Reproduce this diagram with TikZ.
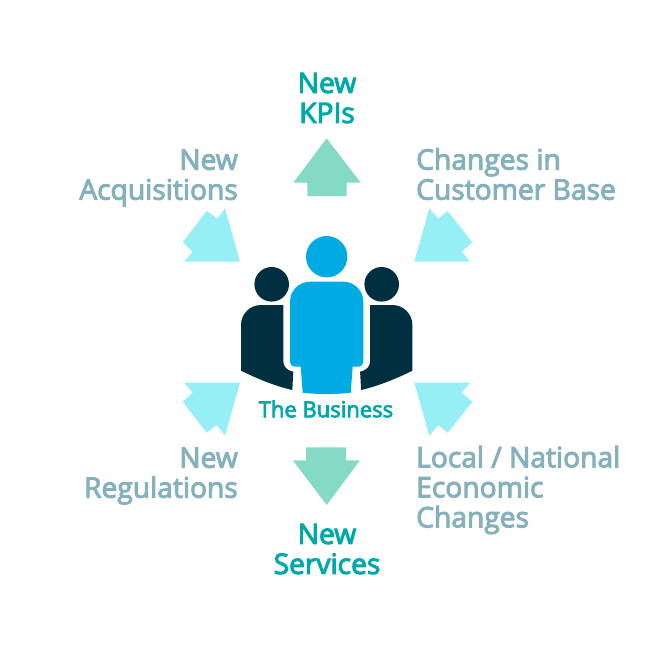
\documentclass[tikz,border=0pt]{standalone}
\usepackage{fontspec}
\setmainfont{Open Sans}[FakeBold=3.5]
\definecolor{titleteal}{HTML}{00A9A9}
\definecolor{greyblue}{HTML}{85B1BD}
\definecolor{paleaqua}{HTML}{96EFF5}
\definecolor{mint}{HTML}{85DAC6}
\definecolor{darkperson}{HTML}{00303F}
\definecolor{blueperson}{HTML}{00ABE4}
\tikzset{
	maintext/.style={titleteal,font=\fontsize{28.2}{30}\selectfont,align=center,inner sep=0pt},
	sidetext/.style={greyblue,font=\fontsize{28.2}{30}\selectfont,inner sep=0pt},
	paleshape/.style={fill=paleaqua},
	mintshape/.style={fill=mint}
}
\begin{document}
\begin{tikzpicture}[x=1pt,y=-1pt]
	\useasboundingbox (0,0) rectangle (650,650);
	% arrows
	\fill[mintshape] (326.7,138.3) -- (360.7,182.7) -- (346.7,182.7) -- (346.7,196) -- (307.3,196) -- (307.3,182.7) -- (293.3,182.7) -- cycle;
	\fill[mintshape] (326.7,505) -- (360,460.3) -- (346,460.3) -- (346,447.3) -- (306,447.3) -- (306,460.3) -- (292.7,460.3) -- cycle;
	\fill[paleshape] (225,208.3) -- (240,261.7) -- (184.3,261.7) -- (192.7,251.7) -- (182.7,242.3) -- (206.7,211) -- (217.3,218.7) -- cycle;
	\fill[paleshape] (429.3,208.3) -- (438.3,218.7) -- (447.7,211) -- (472.3,242.3) -- (461.7,251.7) -- (470,261.7) -- (414.3,261.7) -- cycle;
	\fill[paleshape] (240,382.7) -- (184.3,382.7) -- (192.7,392.7) -- (182.7,401.7) -- (206.7,432.7) -- (216.7,425) -- (225,435.7) -- cycle;
	\fill[paleshape] (414.3,382.7) -- (470,382.7) -- (461.7,392.7) -- (472.3,401.7) -- (447.7,432.7) -- (438.3,425) -- (429.3,435.7) -- cycle;
	% people
	\fill[darkperson] (271.7,284.3) circle (17.3);
	\fill[darkperson] (381.7,284.3) circle (17.3);
	\fill[darkperson] (283.3,305) -- (261,305) arc (-90:-180:20) -- (241,370.7) .. controls (258,379) and (275,386) .. (292.3,390) -- (293.3,371.7) .. controls (286,370) and (283.3,366) .. (283.3,361) -- cycle;
	\fill[darkperson] (370.1,305) -- (392.4,305) arc (-90:0:20) -- (412.4,370.7) .. controls (395.4,379) and (378.4,386) .. (361.1,390) -- (360.1,371.7) .. controls (367.4,370) and (370.1,366) .. (370.1,361) -- cycle;
	\fill[blueperson] (326.7,256.7) circle (20.7);
	\fill[blueperson] (310,281.7) -- (343.3,281.7) arc (-90:0:20) -- (363.3,362) arc (0:90:4.7) -- (352.7,366.7) -- (350.7,392.7) .. controls (335,394.5) and (318,394.5) .. (302.7,392.7) -- (300.7,366.7) -- (294.7,366.7) arc (90:180:4.7) -- (290,301.7) arc (180:270:20) -- cycle;
	% labels
	\node[maintext] (kpis) at (327,98) {New\\KPIs};
	\node[maintext] (services) at (327,549) {New\\Services};
	\node[titleteal,font=\fontsize{22}{24}\selectfont,inner sep=0pt] (business) at (326,409) {The Business};
	\node[sidetext,align=right,anchor=east] (acquisitions) at (238,178) {New\\Acquisitions};
	\node[sidetext,align=left,anchor=west] (customers) at (416,174) {Changes in\\Customer Base};
	\node[sidetext,align=right,anchor=east] (regulations) at (238,476) {New\\Regulations};
	\node[sidetext,align=left,anchor=west] (economic) at (416,490) {Local / National\\Economic\\Changes};
\end{tikzpicture}
\end{document}
